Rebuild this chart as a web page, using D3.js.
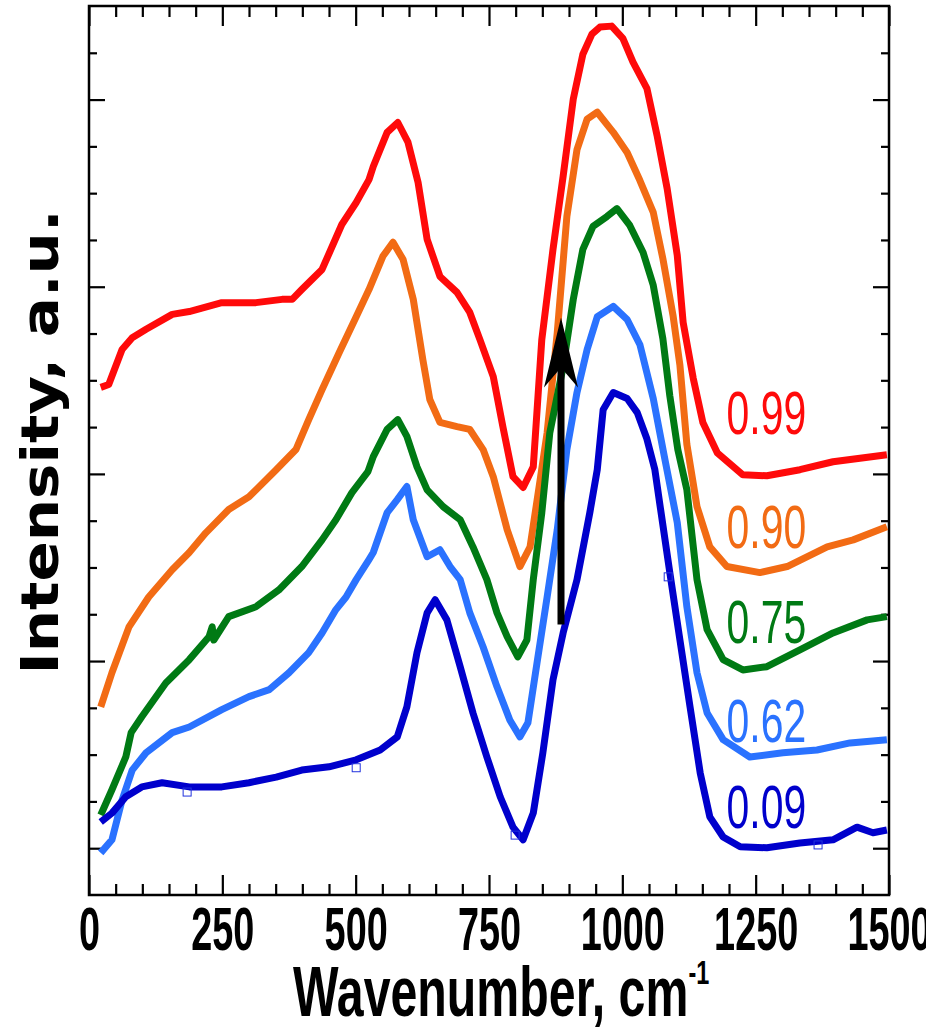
<!DOCTYPE html>
<html>
<head>
<meta charset="utf-8">
<script src="https://cdn.jsdelivr.net/npm/d3@7"></script>
<style>
body { margin: 0; background: #fff; }
</style>
</head>
<body>
<div id="plot"></div>
<script>

// x: wavenumber (cm-1), y: intensity (a.u., offset curves)
var s099 = [[22,10.85],[37,10.91],[62,11.66],[81,11.91],[107,12.09],[156,12.41],[188,12.47],[249,12.66],[313,12.66],[362,12.73],[381,12.73],[399,12.94],[437,13.37],[474,14.33],[501,14.80],[525,15.29],[533,15.57],[559,16.30],[579,16.51],[598,16.09],[617,15.23],[634,14.01],[658,13.22],[690,12.88],[714,12.45],[733,11.87],[758,11.08],[776,10.01],[795,8.94],[814,8.71],[833,9.15],[849,11.87],[870,13.80],[889,15.36],[908,17.01],[926,17.97],[943,18.40],[958,18.55],[980,18.57],[1001,18.31],[1020,17.80],[1046,17.24],[1065,16.24],[1084,15.10],[1103,13.67],[1114,12.24],[1133,11.04],[1151,10.10],[1178,9.45],[1226,8.98],[1271,8.96],[1333,9.09],[1395,9.26],[1496,9.41]];

var s090 = [[22,4.02],[43,4.75],[75,5.73],[112,6.37],[156,6.95],[188,7.32],[219,7.74],[262,8.24],[300,8.51],[351,9.09],[388,9.52],[412,10.16],[437,10.80],[469,11.59],[501,12.36],[525,12.94],[551,13.65],[570,13.95],[589,13.58],[608,12.73],[626,11.44],[639,10.59],[658,10.10],[690,10.01],[714,9.95],[739,9.52],[758,8.94],[784,7.81],[808,7.02],[827,7.44],[846,8.88],[859,9.88],[878,12.02],[896,14.50],[915,15.93],[934,16.58],[953,16.73],[983,16.30],[1009,15.87],[1033,15.27],[1058,14.59],[1076,13.60],[1095,12.39],[1108,11.32],[1121,9.63],[1140,8.30],[1164,7.44],[1196,7.02],[1258,6.89],[1309,7.02],[1384,7.44],[1433,7.59],[1496,7.87]];

var s075 = [[22,1.71],[43,2.25],[69,2.95],[79,3.47],[99,3.81],[144,4.53],[188,5.03],[225,5.52],[231,5.73],[234,5.45],[262,5.95],[313,6.16],[356,6.52],[399,7.02],[437,7.59],[463,8.02],[493,8.60],[523,9.05],[533,9.37],[559,9.95],[579,10.16],[596,9.80],[615,9.15],[634,8.66],[664,8.30],[696,8.02],[720,7.44],[746,6.74],[765,6.03],[784,5.52],[804,5.09],[821,5.45],[833,6.74],[849,8.17],[864,9.88],[889,11.29],[908,12.73],[926,13.80],[945,14.29],[971,14.50],[990,14.67],[1014,14.31],[1039,13.73],[1058,13.03],[1076,11.89],[1089,10.67],[1104,9.52],[1121,8.66],[1140,6.74],[1159,5.67],[1189,5.03],[1226,4.81],[1271,4.88],[1333,5.24],[1395,5.60],[1459,5.88],[1496,5.95]];

var s062 = [[22,0.90],[43,1.18],[62,2.03],[81,2.67],[107,3.04],[156,3.47],[188,3.59],[249,3.96],[300,4.24],[338,4.39],[375,4.75],[412,5.18],[437,5.60],[463,6.10],[482,6.37],[501,6.74],[525,7.17],[533,7.32],[559,8.17],[578,8.45],[596,8.73],[608,8.02],[634,7.23],[658,7.38],[677,7.02],[696,6.74],[714,6.03],[739,5.30],[765,4.45],[789,3.74],[808,3.38],[823,3.68],[840,4.96],[859,6.37],[878,7.81],[896,9.52],[915,10.74],[934,11.66],[953,12.36],[983,12.58],[1009,12.30],[1033,11.76],[1058,10.61],[1080,9.30],[1103,7.96],[1121,6.16],[1140,4.75],[1159,3.89],[1189,3.32],[1239,2.95],[1301,3.04],[1365,3.10],[1427,3.25],[1496,3.32]];

var s009 = [[22,1.56],[43,1.75],[69,2.10],[99,2.31],[137,2.40],[188,2.31],[249,2.31],[300,2.40],[351,2.52],[399,2.67],[450,2.74],[501,2.89],[546,3.10],[578,3.38],[596,4.02],[615,5.18],[634,6.03],[649,6.31],[671,5.88],[696,4.88],[720,3.89],[746,2.95],[771,2.10],[795,1.45],[814,1.18],[833,1.75],[851,3.04],[870,4.60],[889,5.60],[915,6.74],[939,8.17],[953,9.09],[964,10.37],[983,10.74],[1009,10.61],[1028,10.31],[1046,9.75],[1061,9.09],[1071,8.30],[1089,6.89],[1108,5.45],[1127,4.02],[1146,2.61],[1164,1.67],[1189,1.24],[1221,1.03],[1271,1.01],[1333,1.11],[1395,1.18],[1440,1.45],[1470,1.33],[1496,1.39]];

// stray open-square markers left on the 0.09 trace
var marks009 = [[184,2.20],[501,2.72],[799,1.28],[1086,6.80],[1367,1.07]];

var seriesNames = ["0.99", "0.90", "0.75", "0.62", "0.09"];
var xTickLabels = [0, 250, 500, 750, 1000, 1250, 1500];
var arrowX = 885, arrowFrom = 5.78, arrowTo = 12.34;

var svg = d3.select("#plot")
	.append("svg")
	.attr("width", 926)
	.attr("height", 1034)
	.style("display", "block");

var x = d3.scaleLinear().domain([0, 1500]).range([89, 889]);
var y = d3.scaleLinear().domain([0, 19]).range([895, 6]);

var xMinor = d3.range(0, 1501, 50).filter(function(d){ return d % 250 !== 0; });
var yMajor = [1, 5, 9, 13, 17];
var yMinor = d3.range(1, 19).filter(function(d){ return yMajor.indexOf(d) < 0; });

function styleAxis(g){
	g.select(".domain").remove();
	g.selectAll(".tick line").attr("stroke", "#000").attr("stroke-width", 2.2);
}

// bottom
svg.append("g").attr("transform", "translate(0,895)")
	.call(d3.axisBottom(x).tickValues(xMinor).tickSize(-11).tickSizeOuter(0).tickFormat(""))
	.call(styleAxis);
var bottomMajor = svg.append("g").attr("transform", "translate(0,895)")
	.call(d3.axisBottom(x).tickValues(xTickLabels).tickSize(-20).tickSizeOuter(0).tickPadding(12).tickFormat(d3.format("d")))
	.call(styleAxis);
bottomMajor.selectAll("text")
	.attr("fill", "#000")
	.style("font-family", "'Liberation Sans', Arial, sans-serif")
	.style("font-size", "61px")
	.style("font-weight", "bold")
	.attr("transform", "scale(0.62,1)");

// top
svg.append("g").attr("transform", "translate(0,6)")
	.call(d3.axisTop(x).tickValues(xMinor).tickSize(-11).tickSizeOuter(0).tickFormat(""))
	.call(styleAxis);
svg.append("g").attr("transform", "translate(0,6)")
	.call(d3.axisTop(x).tickValues(xTickLabels).tickSize(-20).tickSizeOuter(0).tickFormat(""))
	.call(styleAxis);

// left / right
[["left", 89, d3.axisLeft], ["right", 889, d3.axisRight]].forEach(function(a){
	svg.append("g").attr("transform", "translate(" + a[1] + ",0)")
		.call(a[2](y).tickValues(yMinor).tickSize(-8).tickSizeOuter(0).tickFormat(""))
		.call(styleAxis);
	svg.append("g").attr("transform", "translate(" + a[1] + ",0)")
		.call(a[2](y).tickValues(yMajor).tickSize(-16).tickSizeOuter(0).tickFormat(""))
		.call(styleAxis);
});

svg.append("rect")
	.attr("x", 89).attr("y", 6)
	.attr("width", 800).attr("height", 889)
	.attr("fill", "none")
	.attr("stroke", "#000")
	.attr("stroke-width", 2.5);

var line = d3.line()
	.x(function(d){ return x(d[0]); })
	.y(function(d){ return y(d[1]); });

var series = [
	{data: s099, color: "#ff0a0a", ly: 9.86},
	{data: s090, color: "#f26b14", ly: 7.42},
	{data: s075, color: "#007a14", ly: 5.39},
	{data: s062, color: "#2a72ff", ly: 3.27},
	{data: s009, color: "#0000cc", ly: 1.43}
];

series.forEach(function(s, i){
	svg.append("path")
		.datum(s.data)
		.attr("d", line)
		.attr("fill", "none")
		.attr("stroke", s.color)
		.attr("stroke-width", 7)
		.attr("stroke-linejoin", "round");

	svg.append("text")
		.text(seriesNames[i])
		.attr("text-anchor", "middle")
		.attr("transform", "translate(" + x(1270) + "," + y(s.ly) + ") scale(0.66,1)")
		.attr("fill", s.color)
		.style("font-family", "'Liberation Sans', Arial, sans-serif")
		.style("font-size", "62px");
});

svg.selectAll("rect.mark")
	.data(marks009)
	.enter().append("rect")
	.attr("class", "mark")
	.attr("x", function(d){ return x(d[0]) - 4; })
	.attr("y", function(d){ return y(d[1]) - 4; })
	.attr("width", 8).attr("height", 8)
	.attr("fill", "none")
	.attr("stroke", "#2233dd")
	.attr("stroke-width", 1);

// arrow
svg.append("line")
	.attr("x1", x(arrowX)).attr("x2", x(arrowX))
	.attr("y1", y(arrowFrom)).attr("y2", y(arrowTo) + 40)
	.attr("stroke", "#000")
	.attr("stroke-width", 7);
svg.append("path")
	.attr("d", "M" + x(arrowX) + "," + y(arrowTo) +
		"L" + (x(arrowX) + 17) + "," + (y(arrowTo) + 70) +
		"L" + x(arrowX) + "," + (y(arrowTo) + 50) +
		"L" + (x(arrowX) - 17) + "," + (y(arrowTo) + 70) + "Z")
	.attr("fill", "#000");

// axis titles
var xt = svg.append("text")
	.attr("transform", "translate(293,1016) scale(0.69,1)")
	.attr("fill", "#000")
	.style("font-family", "'Liberation Sans', Arial, sans-serif")
	.style("font-size", "70px")
	.style("font-weight", "bold");
xt.append("tspan").text("Wavenumber, cm");
xt.append("tspan").text("-1").attr("dy", -32).style("font-size", "34px");

svg.append("text")
	.text("Intensity, a.u.")
	.attr("transform", "translate(58,442) rotate(-90)")
	.attr("text-anchor", "middle")
	.attr("textLength", 465)
	.attr("lengthAdjust", "spacingAndGlyphs")
	.attr("fill", "#000")
	.style("font-family", "'DejaVu Sans', sans-serif")
	.style("font-size", "51px")
	.style("font-weight", "bold");

</script>
</body>
</html>
